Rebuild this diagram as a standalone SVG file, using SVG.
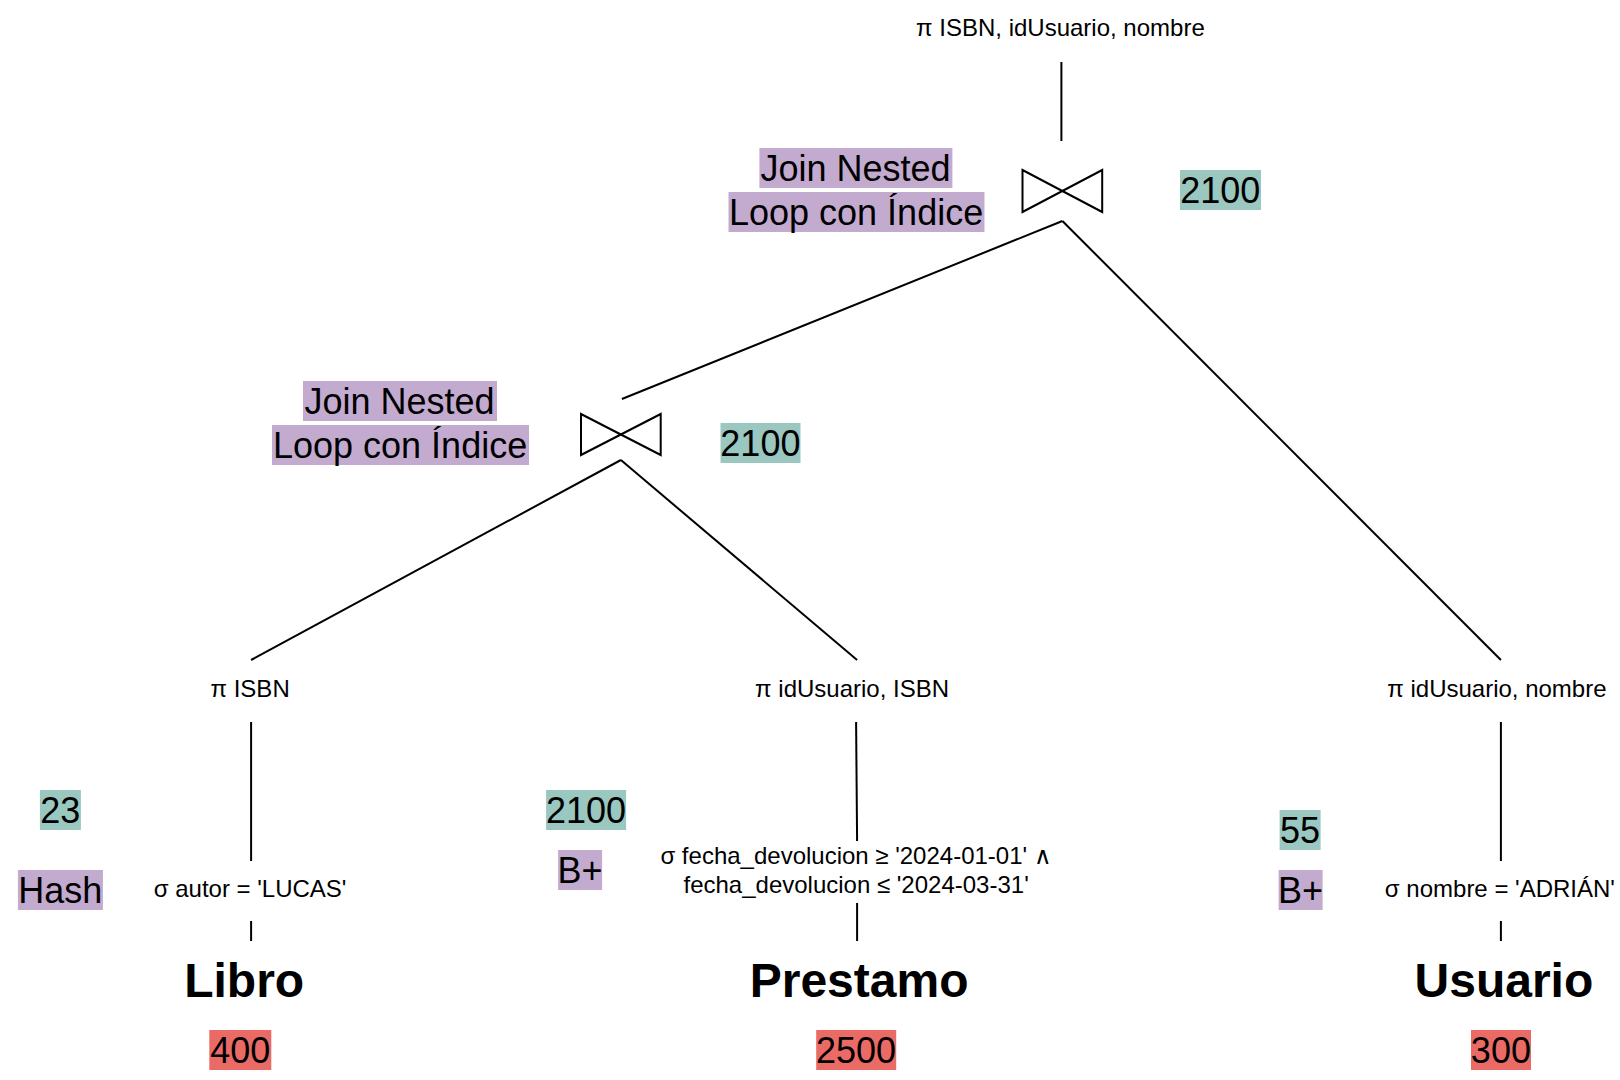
<svg xmlns="http://www.w3.org/2000/svg" width="1620" height="1080" viewBox="0 0 1620 1080">
<style>
text{font-family:"Liberation Sans",Arial,sans-serif;fill:#000;text-anchor:middle}
.s{font-size:24px}
.l{font-size:36px}
.t{font-size:48px;font-weight:bold}
.g{fill:#9AC7BF}
.p{fill:#C3ABD0}
.r{fill:#EA6B66}
.e{stroke:#000;stroke-width:2;fill:none}
.j{stroke:#000;stroke-width:2;fill:#fff}
</style>
<rect width="1620" height="1080" fill="#fff"/>
<g id="connectors">
<line class="e" x1="1061.4" y1="62" x2="1061.4" y2="141"/>
<line class="e" x1="1062.4" y1="221" x2="621.9" y2="399"/>
<line class="e" x1="1062.4" y1="221" x2="1500.9" y2="660"/>
<line class="e" x1="620.9" y1="460" x2="251.1" y2="660"/>
<line class="e" x1="620.9" y1="460" x2="857.1" y2="660"/>
<line class="e" x1="251.1" y1="722" x2="251.1" y2="861"/>
<line class="e" x1="251.1" y1="921" x2="251.1" y2="941"/>
<line class="e" x1="856.1" y1="722" x2="857.1" y2="841"/>
<line class="e" x1="857.1" y1="903" x2="857.1" y2="941"/>
<line class="e" x1="1500.9" y1="722" x2="1500.9" y2="861"/>
<line class="e" x1="1500.9" y1="921" x2="1500.9" y2="941"/>
</g>
<g id="proj-top"><text class="s" x="1060.4" y="36">π ISBN, idUsuario, nombre</text></g>
<g id="join-top">
<path class="j" d="M1022.5,170 L1102.2,212 L1102.2,170 L1022.5,212 Z"/>
<rect class="p" x="759.4" y="148" width="193" height="40"/>
<text class="l" x="855.6" y="180.6">Join Nested</text>
<rect class="p" x="728.5" y="192" width="256" height="40"/>
<text class="l" x="856.1" y="224.6">Loop con Índice</text>
<rect class="g" x="1180" y="170" width="81" height="40"/>
<text class="l" x="1220.3" y="202.6">2100</text>
</g>
<g id="join-mid">
<path class="j" d="M581,414 L660.7,455 L660.7,414 L581,455 Z"/>
<rect class="p" x="303" y="381" width="194" height="40"/>
<text class="l" x="399.6" y="413.6">Join Nested</text>
<rect class="p" x="272" y="425" width="257" height="40"/>
<text class="l" x="400.1" y="457.6">Loop con Índice</text>
<rect class="g" x="720.5" y="423" width="80" height="40"/>
<text class="l" x="760.4" y="455.6">2100</text>
</g>
<g id="proj-libro"><text class="s" x="250.1" y="697">π ISBN</text></g>
<g id="proj-prestamo"><text class="s" x="852.1" y="697">π idUsuario, ISBN</text></g>
<g id="proj-usuario"><text class="s" x="1496.9" y="697">π idUsuario, nombre</text></g>
<g id="sel-libro">
<text class="s" x="250.1" y="897">σ autor = 'LUCAS'</text>
<rect class="g" x="39.9" y="790" width="41" height="40"/>
<text class="l" x="60.3" y="822.6">23</text>
<rect class="p" x="17.9" y="870" width="85" height="40"/>
<text class="l" x="60.3" y="902.6">Hash</text>
</g>
<g id="sel-prestamo">
<text class="s" x="856.1" y="864">σ fecha_devolucion ≥ '2024-01-01' ∧</text>
<text class="s" x="856.1" y="893">fecha_devolucion ≤ '2024-03-31'</text>
<rect class="g" x="546.1" y="790" width="80" height="40"/>
<text class="l" x="586" y="822.6">2100</text>
<rect class="p" x="558.1" y="850" width="44" height="40"/>
<text class="l" x="580" y="882.6">B+</text>
</g>
<g id="sel-usuario">
<text class="s" x="1499.9" y="897">σ nombre = 'ADRIÁN'</text>
<rect class="g" x="1279.6" y="810" width="41" height="40"/>
<text class="l" x="1300.1" y="842.6">55</text>
<rect class="p" x="1278.6" y="870" width="44" height="40"/>
<text class="l" x="1300.6" y="902.6">B+</text>
</g>
<g id="table-libro">
<text class="t" x="244.2" y="997">Libro</text>
<rect class="r" x="209.3" y="1030" width="62" height="40"/>
<text class="l" x="240.2" y="1062.6">400</text>
</g>
<g id="table-prestamo">
<text class="t" x="859.1" y="997">Prestamo</text>
<rect class="r" x="816.2" y="1030" width="80" height="40"/>
<text class="l" x="856.1" y="1062.6">2500</text>
</g>
<g id="table-usuario">
<text class="t" x="1503.9" y="997">Usuario</text>
<rect class="r" x="1471" y="1030" width="60" height="40"/>
<text class="l" x="1500.9" y="1062.6">300</text>
</g>
</svg>
